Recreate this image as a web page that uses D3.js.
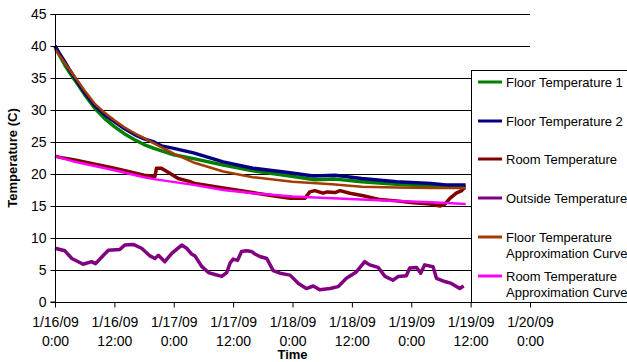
<!DOCTYPE html>
<html>
<head>
<meta charset="utf-8">
<script src="https://cdn.jsdelivr.net/npm/d3@7"></script>
<style>
  body { margin: 0; background: #fff; }
  svg { font-family: "Liberation Sans", Arial, sans-serif; }
</style>
</head>
<body>
<svg width="627" height="362"></svg>
<script>
// hours since 1/16/09 0:00
var tickHours = [0, 12, 24, 36, 48, 60, 72, 84, 96];
var tickDates = ['1/16/09', '1/16/09', '1/17/09', '1/17/09', '1/18/09', '1/18/09', '1/19/09', '1/19/09', '1/20/09'];
var tickTimes = ['0:00', '12:00', '0:00', '12:00', '0:00', '12:00', '0:00', '12:00', '0:00'];
var yTicks = [0, 5, 10, 15, 20, 25, 30, 35, 40, 45];

var floor1Hours = [0, 1, 2, 3, 4, 6, 8, 10, 12, 14, 16, 18, 20, 24, 28, 34, 40, 47.5, 52.5, 56.6, 62, 69, 76, 83];
var floor1 = [40.0, 38.4, 37.0, 35.8, 34.7, 32.4, 30.3, 28.7, 27.4, 26.3, 25.4, 24.6, 24.0, 23.0, 22.4, 21.4, 20.5, 19.7, 19.1, 19.2, 18.8, 18.4, 18.1, 17.9];

var floor2Hours = [0, 1, 2, 3, 4, 6, 8, 10, 12, 14, 16, 18, 20, 21.5, 24, 28, 34, 40, 47.5, 52.2, 56.6, 62, 69, 76, 79, 83];
var floor2 = [40.0, 38.7, 37.5, 36.2, 35.0, 32.7, 30.7, 29.3, 28.2, 27.1, 26.2, 25.5, 25.0, 24.4, 24.0, 23.3, 21.9, 20.9, 20.2, 19.7, 19.8, 19.3, 18.8, 18.5, 18.3, 18.3];

var roomHours = [0, 1, 4, 12, 18, 20.2, 20.5, 21.5, 23.2, 24.9, 27.3, 28.3, 34, 40.7, 44, 47.5, 50.5, 51.5, 52.5, 54.2, 55, 56.6, 57.6, 59.6, 62.3, 65.7, 69, 72.4, 75.8, 77.8, 78.8, 79.8, 81.1, 82.2, 82.8];
var room = [22.8, 22.6, 22.2, 20.9, 19.8, 19.6, 20.9, 20.9, 20.1, 19.3, 18.8, 18.5, 17.8, 17.0, 16.6, 16.2, 16.2, 17.2, 17.4, 17.0, 17.2, 17.1, 17.4, 17.0, 16.6, 16.0, 15.8, 15.5, 15.3, 15.0, 15.3, 16.2, 17.0, 17.4, 17.9];

var outsideHours = [0, 2, 3.4, 5.7, 7.4, 8.2, 9.8, 10.8, 13.1, 14.1, 15.8, 17.5, 19.2, 20.2, 20.9, 22.2, 23.6, 25.6, 26.6, 27.6, 28.3, 29.6, 31, 32.3, 33.7, 34.7, 35.4, 36, 36.9, 37.7, 38.7, 39.7, 40.4, 41.4, 42.8, 44.1, 45.5, 47.5, 49.2, 50.8, 52.2, 53.5, 55.6, 57.2, 58.9, 60.9, 62.6, 63.6, 65.3, 66.7, 68.3, 69.4, 71, 71.7, 73.1, 73.9, 74.7, 76.4, 77.1, 78.8, 80.1, 81.8, 82.6];
var outside = [8.4, 8.0, 6.8, 5.9, 6.3, 6.0, 7.3, 8.1, 8.2, 8.9, 9.0, 8.4, 7.2, 6.8, 7.3, 6.3, 7.6, 8.9, 8.4, 7.5, 7.2, 5.6, 4.6, 4.3, 4.0, 4.6, 6.1, 6.7, 6.5, 7.9, 8.0, 7.9, 7.5, 7.1, 6.8, 4.9, 4.5, 4.2, 2.9, 2.1, 2.5, 1.9, 2.1, 2.4, 3.7, 4.7, 6.3, 5.8, 5.4, 4.0, 3.4, 4.0, 4.1, 5.3, 5.4, 4.5, 5.8, 5.5, 3.7, 3.2, 2.9, 2.1, 2.5];

var floorFitHours = [0, 2, 4, 6, 8, 10, 12, 14, 16, 18, 20, 24, 28, 34, 40, 48, 56, 62, 69, 76, 83];
var floorFit = [39.5, 37.3, 35.2, 33.0, 31.0, 29.6, 28.4, 27.3, 26.4, 25.6, 24.8, 23.2, 21.8, 20.4, 19.5, 18.8, 18.4, 18.0, 17.9, 17.8, 17.8];

var roomFitHours = [0, 4, 12, 18, 20, 28, 34, 40, 48, 56, 62, 69, 76, 83];
var roomFit = [22.8, 21.9, 20.6, 19.5, 19.2, 18.3, 17.5, 17.0, 16.5, 16.2, 16.0, 15.8, 15.6, 15.3];

var seriesNames = ['Floor Temperature 1', 'Floor Temperature 2', 'Room Temperature', 'Outside Temperature', 'Floor Temperature|Approximation Curve', 'Room Temperature|Approximation Curve'];

var svg = d3.select('svg');

var series = [
  {hours: floor1Hours, values: floor1, color: '#008000', w: 3.5},
  {hours: floor2Hours, values: floor2, color: '#000080', w: 3.5},
  {hours: roomHours, values: room, color: '#800000', w: 3.5},
  {hours: outsideHours, values: outside, color: '#800080', w: 3.5},
  {hours: floorFitHours, values: floorFit, color: '#a33c00', w: 2.5},
  {hours: roomFitHours, values: roomFit, color: '#ff00ff', w: 2.5}
];

var margin = {top: 14, left: 55};
var plotW = 475, plotH = 288;

var x = d3.scaleLinear().domain([0, 96]).range([0, plotW]);
var y = d3.scaleLinear().domain([0, 45]).range([plotH, 0]);

var g = svg.append('g')
  .attr('transform', 'translate(' + margin.left + ',' + margin.top + ')');

// gridlines
g.append('g').selectAll('line').data(yTicks.slice(1)).enter()
  .append('line')
  .attr('x1', 0).attr('x2', plotW)
  .attr('y1', d => Math.round(y(d)) + 0.5).attr('y2', d => Math.round(y(d)) + 0.5)
  .attr('stroke', '#000').attr('stroke-width', 1);

// lines
var line = d3.line().x(d => x(d[0])).y(d => y(d[1]));
series.forEach(s => {
  g.append('path')
    .datum(s.hours.map((h, i) => [h, s.values[i]]))
    .attr('d', line)
    .attr('fill', 'none')
    .attr('stroke', s.color)
    .attr('stroke-width', s.w)
    .attr('stroke-linejoin', 'round');
});

// y axis
var yAxis = d3.axisLeft(y).tickValues(yTicks).tickSize(5).tickPadding(4);
var ya = g.append('g').attr('transform', 'translate(0.5,0)').call(yAxis);
ya.selectAll('text').style('font-size', '14px').attr('fill', '#000');
ya.select('.domain').attr('d', 'M-5,0.5H0V' + plotH + 'H-5').attr('stroke', '#000');

// x axis
var xAxis = d3.axisBottom(x).tickValues(tickHours).tickSize(5).tickFormat('');
var xa = g.append('g').attr('transform', 'translate(0,' + (plotH + 0.5) + ')').call(xAxis);
xa.select('.domain').attr('d', 'M0,0H' + plotW).attr('stroke', '#000');
xa.selectAll('.tick').each(function(d, i) {
  var t = d3.select(this).append('text')
    .attr('fill', '#000').attr('text-anchor', 'middle').style('font-size', '14px');
  t.append('tspan').attr('x', 0).attr('y', 24).text(tickDates[i]);
  t.append('tspan').attr('x', 0).attr('y', 43).text(tickTimes[i]);
});

// axis titles
svg.append('text')
  .attr('x', margin.left + plotW / 2).attr('y', 359)
  .attr('text-anchor', 'middle').style('font-size', '13px').style('font-weight', 'bold')
  .text('Time');
svg.append('text')
  .attr('transform', 'translate(17,' + (margin.top + plotH / 2) + ') rotate(-90)')
  .attr('text-anchor', 'middle').style('font-size', '13px').style('font-weight', 'bold')
  .text('Temperature (C)');

// legend
var legend = svg.append('g');
legend.append('rect')
  .attr('x', 471.5).attr('y', 70.5).attr('width', 200).attr('height', 232)
  .attr('fill', '#fff').attr('stroke', '#000');
var legendY = [82, 121, 159, 198, 237, 276];
seriesNames.forEach((name, i) => {
  var ly = legendY[i];
  legend.append('line')
    .attr('x1', 478).attr('x2', 502).attr('y1', ly).attr('y2', ly)
    .attr('stroke', series[i].color).attr('stroke-width', 3);
  name.split('|').forEach((part, j) => {
    legend.append('text')
      .attr('x', 506).attr('y', ly + 4.5 + j * 16)
      .style('font-size', '13px').attr('fill', '#000')
      .text(part);
  });
});
</script>
</body>
</html>
